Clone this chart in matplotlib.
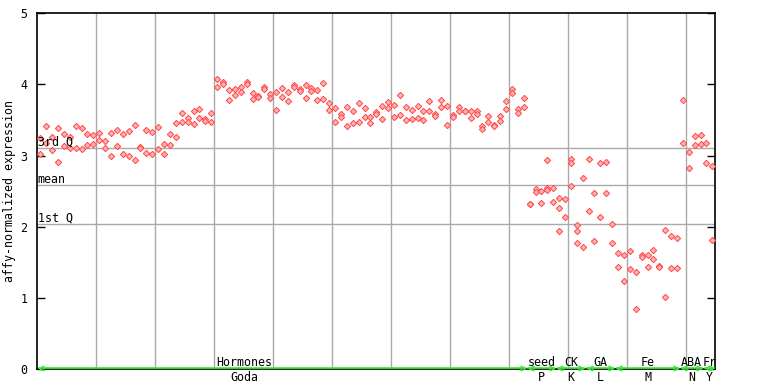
import matplotlib
matplotlib.use("Agg")
from matplotlib import pyplot as plt

# valeurs (2 à 3 réplicats par échantillon)
hormones = [
    [3.24, 3.02], [3.42, 3.18], [3.26, 3.08], [3.39, 2.91], [3.30, 3.14],
    [3.26, 3.10], [3.42, 3.10], [3.39, 3.09], [3.30, 3.15], [3.29, 3.16],
    [3.32, 3.22], [3.20, 3.10], [3.32, 2.99], [3.36, 3.14], [3.30, 3.02],
    [3.34, 3.00], [3.43, 2.94], [3.12, 3.11], [3.36, 3.03], [3.33, 3.02],
    [3.40, 3.09], [3.16, 3.02], [3.30, 3.15], [3.46, 3.26], [3.60, 3.47],
    [3.53, 3.47], [3.62, 3.44], [3.65, 3.53], [3.51, 3.49], [3.60, 3.47],
    [4.07, 3.96], [4.03, 4.00], [3.92, 3.78], [3.93, 3.85], [3.96, 3.89],
    [4.04, 4.01], [3.88, 3.79], [3.84, 3.82], [3.97, 3.93], [3.86, 3.81],
    [3.89, 3.64], [3.95, 3.82], [3.89, 3.76], [3.99, 3.96], [3.93, 3.91],
    [3.99, 3.81], [3.95, 3.91], [3.92, 3.78], [4.02, 3.79], [3.74, 3.64],
    [3.67, 3.47], [3.59, 3.54], [3.68, 3.41], [3.62, 3.46], [3.74, 3.47],
    [3.67, 3.54], [3.54, 3.46], [3.61, 3.59], [3.69, 3.51], [3.75, 3.67],
    [3.71, 3.54], [3.85, 3.57], [3.68, 3.50], [3.64, 3.51], [3.69, 3.53],
    [3.62, 3.50], [3.76, 3.62], [3.59, 3.55], [3.78, 3.68], [3.69, 3.43],
    [3.57, 3.54], [3.68, 3.62], [3.62, 3.62], [3.62, 3.53], [3.62, 3.59],
    [3.41, 3.38], [3.55, 3.47], [3.43, 3.41], [3.55, 3.48], [3.76, 3.65],
    [3.93, 3.88], [3.65, 3.60], [3.81, 3.68],
]
seed = [[2.32, 2.32], [2.53, 2.49], [2.50, 2.33], [2.94, 2.55, 2.52], [2.54, 2.35]]
ck = [[2.40, 2.26, 1.94], [2.39, 2.13], [2.95, 2.89, 2.57], [2.02, 1.94, 1.77], [2.68, 1.71]]
ga = [[2.95, 2.22], [2.47, 1.80], [2.89, 2.13], [2.91, 2.47], [2.04, 1.77]]
fe = [[1.63, 1.43], [1.60, 1.23], [1.66, 1.40], [1.37, 0.85], [1.60, 1.57],
      [1.60, 1.43], [1.67, 1.54], [1.45, 1.43], [1.96, 1.01], [1.87, 1.42],
      [1.84, 1.42]]
aba = [[3.78, 3.17], [3.05, 2.82], [3.27, 3.15], [3.29, 3.16]]
fr = [[3.17, 2.89], [2.85, 1.81]]

groupes = ["Hormones", "seed", "CK", "GA", "Fe", "ABA", "Fr"]
series = ["Goda", "P", "K", "L", "M", "N", "Y"]
donnees = [hormones, seed, ck, ga, fe, aba, fr]

# lignes de référence
troisiemeQ = 3.10
moyenneExpr = 2.58
premierQ = 2.04

vert = '#33ee33'
taille = 8.4

plt.rcParams['font.family'] = ['DejaVu Sans Mono']
fig = plt.figure(figsize=(7.68, 3.84), dpi=100)
ax = fig.add_axes([0.0486, 0.0391, 0.8828, 0.9263])

n = sum(len(d) for d in donnees)
ax.set_xlim(0, n)
ax.set_ylim(0, 5)

# points
xs, ys = [], []
i = 0
for d in donnees:
    for valeurs in d:
        for v in valeurs:
            xs.append(i + 0.5)
            ys.append(v)
        i += 1
ax.plot(xs, ys, linestyle='none', marker='D', markersize=3.2,
        markerfacecolor='#ffb0b0', markeredgecolor='#ff4848',
        markeredgewidth=0.7, zorder=3, clip_on=False)

# grille verticale tous les 10 échantillons
for gx in range(10, n, 10):
    ax.axvline(gx, color='#aaaaaa', linewidth=1, zorder=1)
for yv, txt in [(troisiemeQ, "3rd Q"), (moyenneExpr, "mean"), (premierQ, "1st Q")]:
    ax.axhline(yv, color='#aaaaaa', linewidth=1, zorder=1)
    ax.text(0.05, yv + 0.035, txt, fontsize=taille, va='baseline', ha='left', zorder=4)

# flèches des groupes
debut = 0
for g, s, d in zip(groupes, series, donnees):
    fin = debut + len(d)
    ax.plot([debut + 0.3, fin - 0.3], [0.02, 0.02], color=vert, linewidth=1.2,
            clip_on=False, zorder=4)
    ax.plot([debut + 0.7], [0.02], marker='<', markerfacecolor='none',
            markeredgecolor=vert, markersize=3.5, markeredgewidth=0.9,
            clip_on=False, zorder=4)
    ax.plot([fin - 0.7], [0.02], marker='>', markerfacecolor='none',
            markeredgecolor=vert, markersize=3.5, markeredgewidth=0.9,
            clip_on=False, zorder=4)
    centre = (debut + fin) / 2
    if g == "Hormones":
        centre = 35.1
    ax.text(centre, 0.0084, g, transform=ax.get_xaxis_transform(), fontsize=taille,
            ha='center', va='baseline')
    ax.text(centre, -0.0337, s, transform=ax.get_xaxis_transform(), fontsize=taille,
            ha='center', va='baseline')
    debut = fin

ax.set_xticks([])
ax.set_yticks(range(6))
ax.tick_params(axis='y', direction='in', length=6, width=1, right=True, pad=7,
               labelsize=taille)
for sp in ax.spines.values():
    sp.set_linewidth(1.2)
ax.set_ylabel("affy-normalized expression", fontsize=taille)
ax.yaxis.set_label_coords(-0.031, 0.5)

fig.savefig("out.png", dpi=100)
